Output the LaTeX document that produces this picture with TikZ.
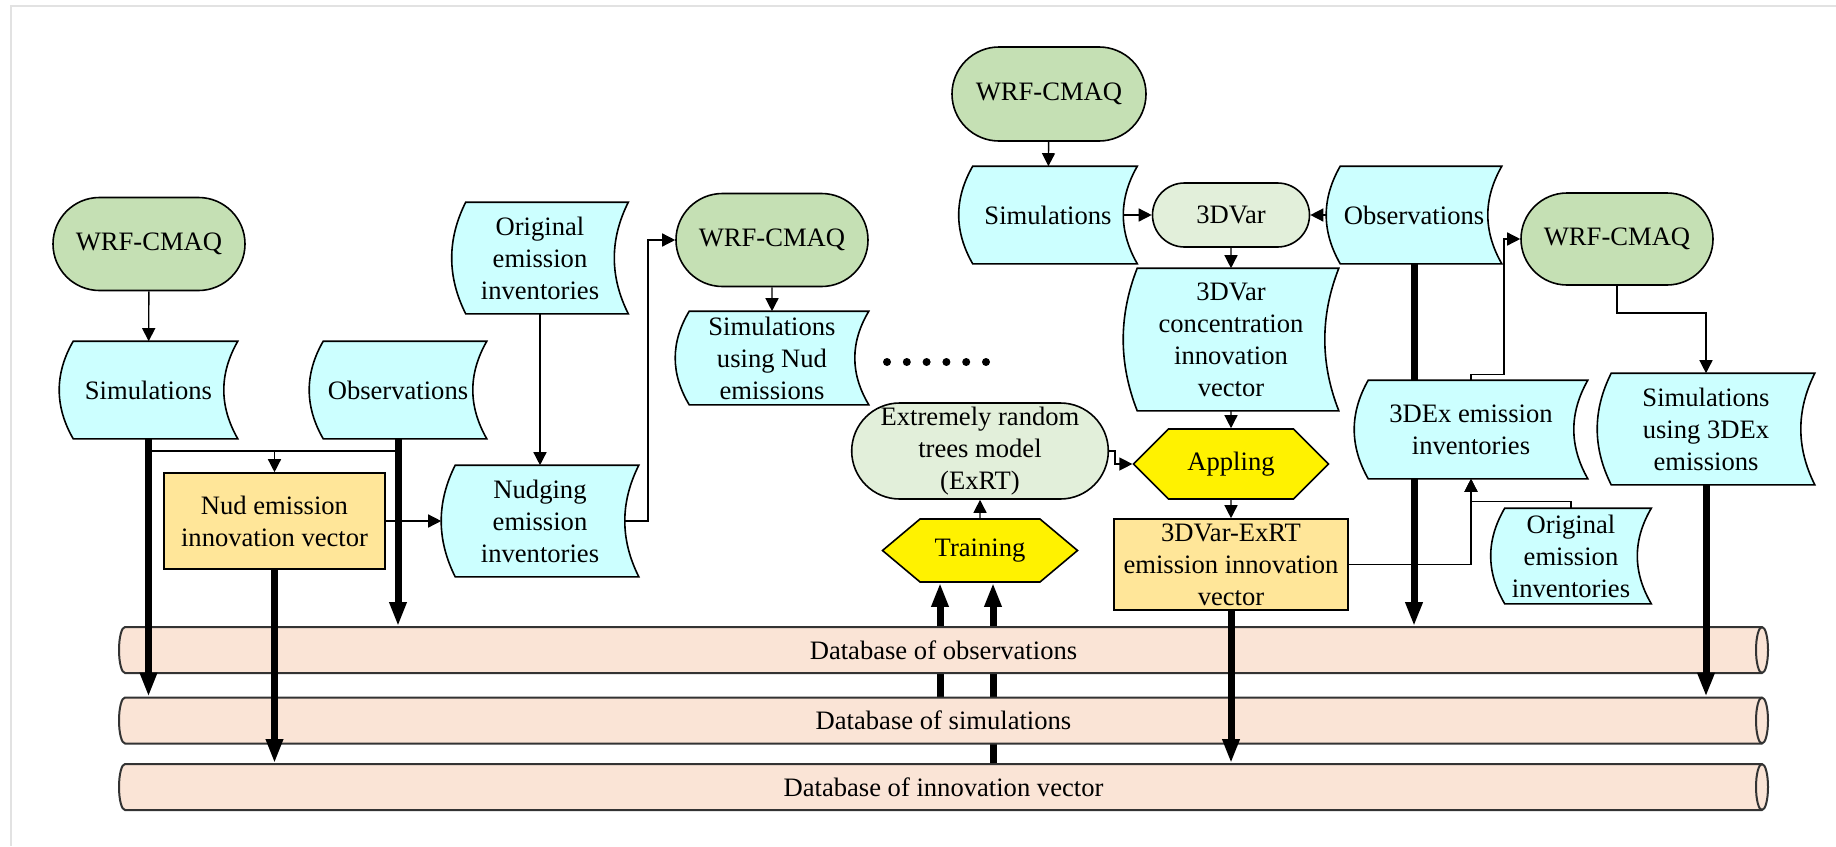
\documentclass[tikz,border=0pt]{standalone}
\usepackage{fontspec}
\setmainfont{Liberation Serif}
\usetikzlibrary{arrows.meta,shapes.misc,shapes.symbols}

\definecolor{wrfgreen}{RGB}{197,224,180}
\definecolor{palegreen}{RGB}{226,239,218}
\definecolor{datacyan}{RGB}{204,255,255}
\definecolor{vecorange}{RGB}{255,230,153}
\definecolor{dbpeach}{RGB}{250,228,214}
\definecolor{framegray}{RGB}{226,226,226}

\pgfdeclarelayer{background}
\pgfsetlayers{background,main}

% stored data shape: both sides bowed to the left
\newcommand{\dsbend}{7pt}
\makeatletter
\pgfdeclareshape{datastore}{
  \inheritsavedanchors[from=rectangle]
  \inheritanchorborder[from=rectangle]
  \inheritanchor[from=rectangle]{center}
  \inheritanchor[from=rectangle]{north}
  \inheritanchor[from=rectangle]{south}
  \inheritanchor[from=rectangle]{west}
  \inheritanchor[from=rectangle]{east}
  \inheritanchor[from=rectangle]{north west}
  \inheritanchor[from=rectangle]{north east}
  \inheritanchor[from=rectangle]{south west}
  \inheritanchor[from=rectangle]{south east}
  \backgroundpath{%
    \southwest \edef\dsL{\the\pgf@x}\edef\dsB{\the\pgf@y}%
    \northeast \edef\dsR{\the\pgf@x}\edef\dsT{\the\pgf@y}%
    \pgfpathmoveto{\pgfpoint{\dsL+\dsbend}{\dsT}}%
    \pgfpathlineto{\pgfpoint{\dsR}{\dsT}}%
    \pgfpathquadraticcurveto{\pgfpoint{\dsR-2*\dsbend}{0.5*\dsT+0.5*\dsB}}{\pgfpoint{\dsR}{\dsB}}%
    \pgfpathlineto{\pgfpoint{\dsL+\dsbend}{\dsB}}%
    \pgfpathquadraticcurveto{\pgfpoint{\dsL-\dsbend}{0.5*\dsT+0.5*\dsB}}{\pgfpoint{\dsL+\dsbend}{\dsT}}%
    \pgfpathclose
  }
}
\makeatother

\begin{document}
\begin{tikzpicture}[x=0.5pt,y=-0.5pt,
    font=\fontsize{13.3}{16}\selectfont,
    every node/.style={align=center,inner sep=0pt,line width=0.8pt},
    wrf/.style={rounded rectangle,draw,fill=wrfgreen},
    soft/.style={rounded rectangle,draw,fill=palegreen},
    store/.style={datastore,draw,fill=datacyan},
    vecbox/.style={rectangle,draw,fill=vecorange},
    hexa/.style={signal,signal to=west and east,draw,fill=yellow},
    dbase/.style={draw=black!80,line width=1pt},
    flow/.style={line width=0.7pt,-{Triangle[length=6.5pt,width=6.5pt]}},
    heavy/.style={line width=3.5pt,-{Triangle[length=12pt,width=8pt]}}]

    \useasboundingbox (0,0) rectangle (1836,846);

    % Rahmen
    \draw[framegray,line width=1pt] (11,846) -- (11,6) -- (1836,6);

    % Datenbanken
    \foreach \y/\n/\t in {650/dbobs/Database of observations,
                          720.5/dbsim/Database of simulations,
                          787/dbinn/Database of innovation vector}{
        \draw[dbase,fill=dbpeach] (125,\y-23) -- (1762,\y-23)
            arc[start angle=90,end angle=-90,x radius=3pt,y radius=11.5pt] -- (125,\y+23)
            arc[start angle=270,end angle=90,x radius=3pt,y radius=11.5pt] -- cycle;
        \draw[dbase] (1762,\y+23) arc[start angle=270,end angle=90,x radius=3pt,y radius=11.5pt];
        \node[minimum width=818.5pt,minimum height=23pt] (\n) at (943.5,\y) {\t};
    }

    % Nudging-Zweig
    \node[wrf,minimum width=96pt,minimum height=46.5pt] (wrfa) at (149,244) {WRF-CMAQ};
    \node[store,minimum width=88.5pt,minimum height=48pt] (sima) at (148.5,390) {Simulations};
    \node[store,minimum width=88pt,minimum height=48pt] (obsa) at (398,390) {Observations};
    \node[vecbox,minimum width=110.5pt,minimum height=48pt] (nudvec) at (274.5,521) {Nud emission\\innovation vector};
    \node[store,minimum width=87.5pt,minimum height=55pt] (origa) at (540,258) {Original\\emission\\inventories};
    \node[store,minimum width=98pt,minimum height=55pt] (nudinv) at (540,521) {Nudging\\emission\\inventories};
    \node[wrf,minimum width=96pt,minimum height=46.5pt] (wrfb) at (772,240) {WRF-CMAQ};
    \node[store,minimum width=96pt,minimum height=46pt] (simnud) at (772,358) {Simulations\\using Nud\\emissions};

    % Punkte
    \foreach \i in {0,...,5}
        \fill (887+\i*19.8,362) circle (2pt);

    % 3DVar-Zweig
    \node[wrf,minimum width=97pt,minimum height=47pt] (wrfc) at (1049,94) {WRF-CMAQ};
    \node[store,minimum width=88.5pt,minimum height=48pt] (simc) at (1048,215) {Simulations};
    \node[soft,minimum width=78.5pt,minimum height=32pt] (tdvar) at (1231,215) {3DVar};
    \node[store,minimum width=87pt,minimum height=48pt] (obsc) at (1414,215) {Observations};
    \node[store,minimum width=107pt,minimum height=70.5pt] (concvec) at (1231,339.5) {3DVar\\concentration\\innovation\\vector};
    \node[soft,minimum width=126.5pt,minimum height=48pt] (exrt) at (980,451) {Extremely random\\trees model\\(ExRT)};
    \node[hexa,minimum width=97.5pt,minimum height=35pt] (appl) at (1231,464) {Appling};
    \node[hexa,signal pointer angle=80,minimum width=97.5pt,minimum height=31.5pt] (train) at (980,550.5) {Training};
    \node[vecbox,minimum width=117pt,minimum height=45.5pt] (exvec) at (1231,564.5) {3DVar-ExRT\\emission innovation\\vector};

    % 3DEx-Zweig
    \node[wrf,minimum width=96pt,minimum height=46pt] (wrfd) at (1617,239) {WRF-CMAQ};
    \node[store,minimum width=116pt,minimum height=48.5pt] (exinv) at (1471,429.5) {3DEx emission\\inventories};
    \node[store,minimum width=108pt,minimum height=55pt] (simex) at (1706,429) {Simulations\\using 3DEx\\emissions};
    \node[store,minimum width=79.5pt,minimum height=47pt] (origb) at (1571,556) {Original\\emission\\inventories};

    % Verbindungen links
    \coordinate (split) at (274.5,451);
    \draw[flow] (wrfa) -- (sima);
    \draw[heavy] (sima) -- (sima |- dbsim.north);
    \draw[heavy] (obsa) -- (obsa |- dbobs.north);
    \draw[line width=0.7pt] (sima |- split) -- (obsa |- split);
    \draw[flow] (split) -- (nudvec);
    \draw[heavy] (nudvec) -- (nudvec |- dbinn.north);
    \draw[flow] (nudvec) -- (nudinv);
    \draw[flow] (origa) -- (nudinv);
    \draw[flow] ([xshift=-7pt]nudinv.east) -- ++(23,0) |- (wrfb.west);
    \draw[flow] (wrfb) -- (simnud);

    % Verbindungen Mitte
    \draw[flow] (wrfc) -- (simc);
    \draw[flow] ([xshift=-7pt]simc.east) -- (tdvar.west);
    \draw[flow] (obsc.west) -- (tdvar.east);
    \draw[flow] (tdvar) -- (concvec);
    \draw[flow] (concvec) -- (appl);
    \draw[flow] (appl) -- (exvec);
    \draw[flow] (exrt.east) -- ++(6,0) |- (appl.west);
    \draw[flow] (train) -- (exrt);
    \begin{pgfonlayer}{background}
        \draw[heavy] ([xshift=-20pt]train.south |- dbsim.north) -- ([xshift=-20pt]train.south);
        \draw[heavy] ([xshift=6.5pt]train.south |- dbinn.north) -- ([xshift=6.5pt]train.south);
    \end{pgfonlayer}
    \draw[heavy] (exvec) -- (exvec |- dbinn.north);

    % Verbindungen rechts
    \draw[line width=3.5pt] (obsc) -- (obsc |- exinv.north);
    \draw[heavy] (obsc |- exinv.south) -- (obsc |- dbobs.north);
    \draw[flow] (exinv.north) -- ++(0,-6) -- ++(33,0) |- (wrfd.west);
    \draw[flow] (wrfd.south) -- ++(0,27) -| (simex.north);
    \draw[heavy] (simex) -- (simex |- dbsim.north);
    \draw[flow] (origb.north) -- ++(0,-7) -| (exinv.south);
    \draw[flow] (exvec.east) -| (exinv.south);
\end{tikzpicture}
\end{document}
